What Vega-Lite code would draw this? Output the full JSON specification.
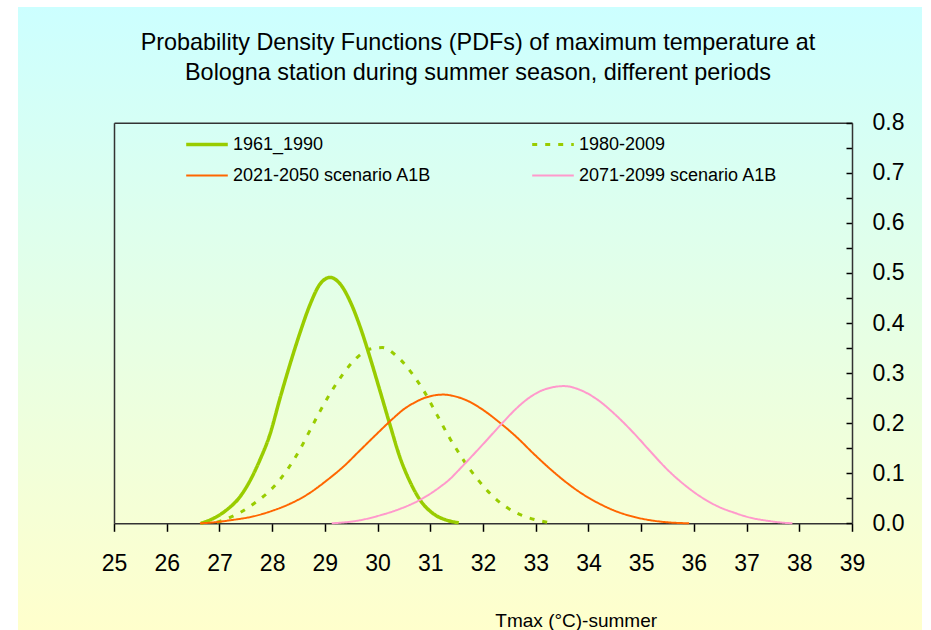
{
  "$schema": "https://vega.github.io/schema/vega-lite/v6.json",
  "width": 904,
  "height": 623,
  "autosize": {"type": "none"},
  "padding": {"left": 18, "top": 7, "right": 9, "bottom": 0},
  "background": "#ffffff",
  "config": {
    "font": "Liberation Sans",
    "view": {
      "stroke": null,
      "fill": {"gradient": "linear", "x1": 0, "y1": 0, "x2": 0, "y2": 1, "stops": [{"offset": 0, "color": "#ccffff"}, {"offset": 1, "color": "#ffffcc"}]}
    }
  },
  "title": {
    "text": ["Probability Density Functions (PDFs) of maximum temperature at", "Bologna station during summer season, different periods "],
    "font": "Liberation Sans",
    "fontSize": 23.4,
    "fontWeight": "normal",
    "color": "#000000",
    "anchor": "middle",
    "frame": "group",
    "baseline": "top",
    "offset": -78.3,
    "lineHeight": 30,
    "dx": 8
  },
  "data": {
    "values": [
      {"T": 26.65, "v": 0.0, "s": "1961_1990"},
      {"T": 26.89, "v": 0.01, "s": "1961_1990"},
      {"T": 27.14, "v": 0.027, "s": "1961_1990"},
      {"T": 27.39, "v": 0.053, "s": "1961_1990"},
      {"T": 27.58, "v": 0.085, "s": "1961_1990"},
      {"T": 27.77, "v": 0.127, "s": "1961_1990"},
      {"T": 27.96, "v": 0.178, "s": "1961_1990"},
      {"T": 28.15, "v": 0.25, "s": "1961_1990"},
      {"T": 28.34, "v": 0.318, "s": "1961_1990"},
      {"T": 28.53, "v": 0.381, "s": "1961_1990"},
      {"T": 28.72, "v": 0.437, "s": "1961_1990"},
      {"T": 28.91, "v": 0.478, "s": "1961_1990"},
      {"T": 29.1, "v": 0.491, "s": "1961_1990"},
      {"T": 29.29, "v": 0.478, "s": "1961_1990"},
      {"T": 29.48, "v": 0.443, "s": "1961_1990"},
      {"T": 29.67, "v": 0.392, "s": "1961_1990"},
      {"T": 29.86, "v": 0.33, "s": "1961_1990"},
      {"T": 30.05, "v": 0.263, "s": "1961_1990"},
      {"T": 30.24, "v": 0.195, "s": "1961_1990"},
      {"T": 30.43, "v": 0.13, "s": "1961_1990"},
      {"T": 30.62, "v": 0.082, "s": "1961_1990"},
      {"T": 30.81, "v": 0.046, "s": "1961_1990"},
      {"T": 31.06, "v": 0.019, "s": "1961_1990"},
      {"T": 31.32, "v": 0.006, "s": "1961_1990"},
      {"T": 31.54, "v": 0.001, "s": "1961_1990"},

      {"T": 26.95, "v": 0.002, "s": "1980-2009"},
      {"T": 27.14, "v": 0.009, "s": "1980-2009"},
      {"T": 27.4, "v": 0.022, "s": "1980-2009"},
      {"T": 27.65, "v": 0.039, "s": "1980-2009"},
      {"T": 28.03, "v": 0.073, "s": "1980-2009"},
      {"T": 28.28, "v": 0.106, "s": "1980-2009"},
      {"T": 28.53, "v": 0.148, "s": "1980-2009"},
      {"T": 28.72, "v": 0.186, "s": "1980-2009"},
      {"T": 28.91, "v": 0.224, "s": "1980-2009"},
      {"T": 29.1, "v": 0.259, "s": "1980-2009"},
      {"T": 29.35, "v": 0.299, "s": "1980-2009"},
      {"T": 29.61, "v": 0.331, "s": "1980-2009"},
      {"T": 29.86, "v": 0.348, "s": "1980-2009"},
      {"T": 30.09, "v": 0.351, "s": "1980-2009"},
      {"T": 30.34, "v": 0.336, "s": "1980-2009"},
      {"T": 30.69, "v": 0.294, "s": "1980-2009"},
      {"T": 30.88, "v": 0.264, "s": "1980-2009"},
      {"T": 31.13, "v": 0.216, "s": "1980-2009"},
      {"T": 31.38, "v": 0.168, "s": "1980-2009"},
      {"T": 31.57, "v": 0.136, "s": "1980-2009"},
      {"T": 31.7, "v": 0.115, "s": "1980-2009"},
      {"T": 31.86, "v": 0.093, "s": "1980-2009"},
      {"T": 32.05, "v": 0.069, "s": "1980-2009"},
      {"T": 32.27, "v": 0.046, "s": "1980-2009"},
      {"T": 32.49, "v": 0.029, "s": "1980-2009"},
      {"T": 32.74, "v": 0.016, "s": "1980-2009"},
      {"T": 33.0, "v": 0.007, "s": "1980-2009"},
      {"T": 33.28, "v": 0.001, "s": "1980-2009"},

      {"T": 26.63, "v": 0.0, "s": "2021-2050 scenario A1B"},
      {"T": 26.9, "v": 0.002, "s": "2021-2050 scenario A1B"},
      {"T": 27.2, "v": 0.006, "s": "2021-2050 scenario A1B"},
      {"T": 27.65, "v": 0.014, "s": "2021-2050 scenario A1B"},
      {"T": 28.03, "v": 0.026, "s": "2021-2050 scenario A1B"},
      {"T": 28.34, "v": 0.039, "s": "2021-2050 scenario A1B"},
      {"T": 28.66, "v": 0.057, "s": "2021-2050 scenario A1B"},
      {"T": 29.04, "v": 0.086, "s": "2021-2050 scenario A1B"},
      {"T": 29.35, "v": 0.113, "s": "2021-2050 scenario A1B"},
      {"T": 29.67, "v": 0.146, "s": "2021-2050 scenario A1B"},
      {"T": 29.99, "v": 0.179, "s": "2021-2050 scenario A1B"},
      {"T": 30.31, "v": 0.211, "s": "2021-2050 scenario A1B"},
      {"T": 30.5, "v": 0.228, "s": "2021-2050 scenario A1B"},
      {"T": 30.7, "v": 0.241, "s": "2021-2050 scenario A1B"},
      {"T": 30.88, "v": 0.25, "s": "2021-2050 scenario A1B"},
      {"T": 31.05, "v": 0.255, "s": "2021-2050 scenario A1B"},
      {"T": 31.25, "v": 0.257, "s": "2021-2050 scenario A1B"},
      {"T": 31.45, "v": 0.254, "s": "2021-2050 scenario A1B"},
      {"T": 31.7, "v": 0.245, "s": "2021-2050 scenario A1B"},
      {"T": 31.95, "v": 0.23, "s": "2021-2050 scenario A1B"},
      {"T": 32.33, "v": 0.2, "s": "2021-2050 scenario A1B"},
      {"T": 32.65, "v": 0.171, "s": "2021-2050 scenario A1B"},
      {"T": 32.96, "v": 0.139, "s": "2021-2050 scenario A1B"},
      {"T": 33.28, "v": 0.108, "s": "2021-2050 scenario A1B"},
      {"T": 33.6, "v": 0.08, "s": "2021-2050 scenario A1B"},
      {"T": 33.91, "v": 0.057, "s": "2021-2050 scenario A1B"},
      {"T": 34.23, "v": 0.038, "s": "2021-2050 scenario A1B"},
      {"T": 34.55, "v": 0.023, "s": "2021-2050 scenario A1B"},
      {"T": 34.86, "v": 0.013, "s": "2021-2050 scenario A1B"},
      {"T": 35.18, "v": 0.006, "s": "2021-2050 scenario A1B"},
      {"T": 35.5, "v": 0.002, "s": "2021-2050 scenario A1B"},
      {"T": 35.91, "v": 0.0, "s": "2021-2050 scenario A1B"},

      {"T": 29.13, "v": 0.0, "s": "2071-2099 scenario A1B"},
      {"T": 29.61, "v": 0.005, "s": "2071-2099 scenario A1B"},
      {"T": 30.05, "v": 0.016, "s": "2071-2099 scenario A1B"},
      {"T": 30.43, "v": 0.029, "s": "2071-2099 scenario A1B"},
      {"T": 30.81, "v": 0.047, "s": "2071-2099 scenario A1B"},
      {"T": 31.19, "v": 0.073, "s": "2071-2099 scenario A1B"},
      {"T": 31.38, "v": 0.089, "s": "2071-2099 scenario A1B"},
      {"T": 31.51, "v": 0.103, "s": "2071-2099 scenario A1B"},
      {"T": 31.7, "v": 0.124, "s": "2071-2099 scenario A1B"},
      {"T": 32.01, "v": 0.159, "s": "2071-2099 scenario A1B"},
      {"T": 32.33, "v": 0.196, "s": "2071-2099 scenario A1B"},
      {"T": 32.65, "v": 0.231, "s": "2071-2099 scenario A1B"},
      {"T": 32.84, "v": 0.248, "s": "2071-2099 scenario A1B"},
      {"T": 33.16, "v": 0.267, "s": "2071-2099 scenario A1B"},
      {"T": 33.54, "v": 0.274, "s": "2071-2099 scenario A1B"},
      {"T": 33.85, "v": 0.266, "s": "2071-2099 scenario A1B"},
      {"T": 34.17, "v": 0.247, "s": "2071-2099 scenario A1B"},
      {"T": 34.55, "v": 0.213, "s": "2071-2099 scenario A1B"},
      {"T": 34.87, "v": 0.179, "s": "2071-2099 scenario A1B"},
      {"T": 35.18, "v": 0.143, "s": "2071-2099 scenario A1B"},
      {"T": 35.5, "v": 0.107, "s": "2071-2099 scenario A1B"},
      {"T": 35.82, "v": 0.077, "s": "2071-2099 scenario A1B"},
      {"T": 36.13, "v": 0.053, "s": "2071-2099 scenario A1B"},
      {"T": 36.45, "v": 0.034, "s": "2071-2099 scenario A1B"},
      {"T": 36.77, "v": 0.021, "s": "2071-2099 scenario A1B"},
      {"T": 37.08, "v": 0.011, "s": "2071-2099 scenario A1B"},
      {"T": 37.4, "v": 0.005, "s": "2071-2099 scenario A1B"},
      {"T": 37.72, "v": 0.001, "s": "2071-2099 scenario A1B"},
      {"T": 37.87, "v": 0.0, "s": "2071-2099 scenario A1B"}
    ]
  },
  "layer": [
    {
      "mark": {"type": "line", "interpolate": "monotone", "strokeJoin": "round", "strokeCap": "butt"},
      "encoding": {
        "x": {
          "field": "T", "type": "quantitative",
          "scale": {"domain": [25, 39], "range": [96, 834], "nice": false, "zero": false},
          "axis": {
            "orient": "bottom", "offset": -106.7,
            "values": [25, 26, 27, 28, 29, 30, 31, 32, 33, 34, 35, 36, 37, 38, 39],
            "format": "d", "labelFontSize": 23, "labelColor": "#000000", "labelPadding": 21,
            "labelFlush": false, "labelOverlap": false,
            "tickSize": 8, "tickColor": "#000000", "tickWidth": 1.5,
            "domainColor": "#333333", "domainWidth": 1.5, "grid": false,
            "title": "Tmax (°C)-summer", "titleFontSize": 19, "titleFontWeight": "normal", "titleColor": "#000000",
            "titleX": 557.7, "titleY": 102.7, "titleBaseline": "alphabetic", "titleAlign": "center"
          }
        },
        "y": {
          "field": "v", "type": "quantitative",
          "scale": {"domain": [0, 0.8], "range": [516.3, 115.7], "nice": false, "zero": false},
          "axis": {
            "orient": "right", "offset": -70,
            "values": [0, 0.05, 0.1, 0.15, 0.2, 0.25, 0.3, 0.35, 0.4, 0.45, 0.5, 0.55, 0.6, 0.65, 0.7, 0.75, 0.8],
            "labelExpr": "round(datum.value*20)%2===0 ? format(datum.value,'.1f') : ''",
            "labelFontSize": 23, "labelColor": "#000000", "labelPadding": 26,
            "labelFlush": false, "labelOverlap": false,
            "tickSize": -6, "tickColor": "#000000", "tickWidth": 1.5,
            "domainColor": "#333333", "domainWidth": 1.5, "grid": false, "title": null
          }
        },
        "color": {
          "field": "s", "type": "nominal",
          "scale": {"domain": ["1961_1990", "2021-2050 scenario A1B", "1980-2009", "2071-2099 scenario A1B"], "range": ["#99cc00", "#ff6600", "#99cc00", "#ff99cc"]},
          "legend": {
            "orient": "none", "legendX": 180, "legendY": 128.5,
            "columns": 2, "columnPadding": 94, "rowPadding": 13,
            "title": null, "padding": 0,
            "symbolType": "stroke", "symbolSize": 1730, "symbolStrokeWidth": 2,
            "labelFontSize": 18, "labelOffset": 17, "labelLimit": 300, "labelColor": "#000000",
            "encode": {
              "symbols": {
                "update": {
                  "strokeWidth": {"signal": "datum.value === '1961_1990' ? 3.5 : datum.value === '1980-2009' ? 3 : 2"},
                  "strokeDash": {"signal": "datum.value === '1980-2009' ? [5, 8] : [1, 0]"}
                }
              }
            }
          }
        },
        "strokeWidth": {
          "condition": [
            {"test": "datum.s === '1961_1990'", "value": 3.5},
            {"test": "datum.s === '1980-2009'", "value": 3}
          ],
          "value": 2
        },
        "strokeDash": {
          "condition": {"test": "datum.s === '1980-2009'", "value": [5, 8]},
          "value": [1, 0]
        }
      }
    },
    {
      "mark": {"type": "line", "opacity": 0},
      "encoding": {
        "x": {
          "field": "T", "type": "quantitative",
          "axis": {"orient": "top", "offset": -115.7, "labels": false, "ticks": false, "title": null, "grid": false, "domainColor": "#333333", "domainWidth": 1.5}
        },
        "y": {
          "field": "v", "type": "quantitative",
          "axis": {"orient": "left", "offset": -96, "labels": false, "ticks": false, "title": null, "grid": false, "domainColor": "#333333", "domainWidth": 1.5}
        }
      }
    }
  ],
  "resolve": {"axis": {"x": "independent", "y": "independent"}}
}
